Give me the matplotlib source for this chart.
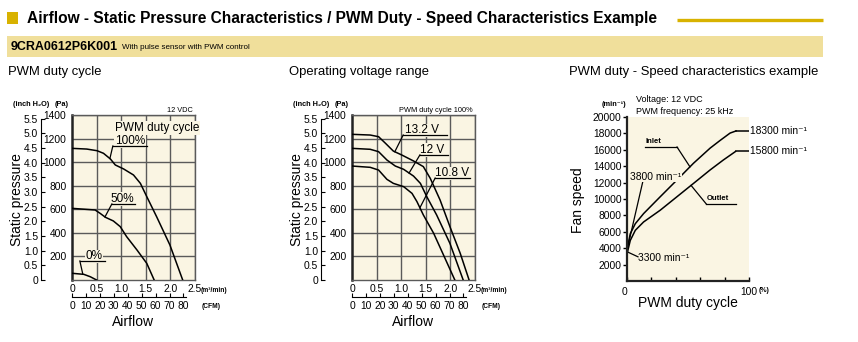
import numpy as np
import matplotlib
matplotlib.use("Agg")
import matplotlib.pyplot as plt
from matplotlib import font_manager
from matplotlib.patches import Rectangle

# PWM duty cycle curves (airflow m3/min, static pressure Pa) at 12 VDC
pwm100_flow = [0, 0.30, 0.51, 0.64, 0.78, 0.88, 1.05, 1.25, 1.39, 1.52, 1.72, 1.99, 2.25]
pwm100_pa = [1117, 1111, 1097, 1075, 1027, 976, 942, 891, 820, 707, 537, 297, 0]
pwm50_flow = [0, 0.47, 0.57, 0.68, 0.84, 0.98, 1.11, 1.32, 1.52, 1.67]
pwm50_pa = [608, 594, 566, 532, 501, 453, 368, 255, 141, 0]
pwm0_flow = [0, 0.24, 0.37, 0.50]
pwm0_pa = [57, 48, 28, 0]

# operating voltage range at 100 % duty
v132_flow = [0, 0.37, 0.54, 0.68, 0.84, 1.01, 1.25, 1.45, 1.59, 1.79, 1.99, 2.20, 2.38]
v132_pa = [1236, 1230, 1216, 1160, 1094, 1061, 1010, 962, 863, 679, 453, 226, 0]
v12_flow = [0, 0.37, 0.54, 0.71, 0.88, 1.05, 1.25, 1.39, 1.52, 1.72, 1.99, 2.26]
v12_pa = [1117, 1109, 1089, 1018, 967, 939, 882, 820, 707, 552, 311, 0]
v108_flow = [0, 0.37, 0.54, 0.71, 0.84, 1.05, 1.22, 1.32, 1.45, 1.66, 1.86, 2.09]
v108_pa = [967, 956, 933, 854, 820, 792, 735, 665, 552, 396, 212, 0]

# PWM duty (%) vs fan speed (min-1)
inlet_duty = [0, 2.7, 6.8, 13.6, 27.2, 40.9, 54.5, 68.1, 76.3, 84.5, 89.4]
inlet_speed = [3800, 5770, 6990, 8220, 10270, 12310, 14360, 16200, 17140, 18040, 18300]
outlet_duty = [0, 2.7, 6.8, 13.6, 27.2, 40.9, 54.5, 68.1, 79.0, 89.0]
outlet_speed = [3300, 4950, 6180, 7200, 8630, 10270, 11900, 13540, 14760, 15800]

pa_ticks = [200, 400, 600, 800, 1000, 1200, 1400]
inch_ticks = [0, 0.5, 1.0, 1.5, 2.0, 2.5, 3.0, 3.5, 4.0, 4.5, 5.0, 5.5]
inch_labels = ["0", "0.5", "1.0", "1.5", "2.0", "2.5", "3.0", "3.5", "4.0", "4.5", "5.0", "5.5"]
m3_ticks = [0, 0.5, 1.0, 1.5, 2.0, 2.5]
m3_labels = ["0", "0.5", "1.0", "1.5", "2.0", "2.5"]
cfm_ticks = [0, 10, 20, 30, 40, 50, 60, 70, 80]
speed_ticks = [2000, 4000, 6000, 8000, 10000, 12000, 14000, 16000, 18000, 20000]
duty_ticks = [0, 20, 40, 60, 80, 100]

W, H = 858, 342
CREAM = "#faf5e3"
GRID = "#5a5a5a"
GOLD = "#d8b200"
BAND = "#f0df9b"
NUMSIZE = 7.4

names = {f.name for f in font_manager.fontManager.ttflist}
NARROW = "Liberation Sans Narrow" if "Liberation Sans Narrow" in names else "Liberation Sans"
NUM = [NARROW, "DejaVu Sans"]
plt.rcParams["font.family"] = ["Liberation Sans", "DejaVu Sans"]

fig = plt.figure(figsize=(W / 100, H / 100), dpi=100)
bg = fig.add_axes([0, 0, 1, 1])
bg.set_xlim(0, W)
bg.set_ylim(H, 0)
bg.axis("off")


def box(l, t, r, b):
    return [l / W, 1 - b / H, (r - l) / W, (b - t) / H]


# header
bg.add_patch(Rectangle((7, 12), 11, 12, color=GOLD, lw=0))
bg.text(27, 18.5, "Airflow - Static Pressure Characteristics / PWM Duty - Speed Characteristics Example",
        fontsize=11.2, fontweight="bold", va="center", ha="left")
bg.plot([677, 823], [20, 20], color=GOLD, lw=2.4, solid_capstyle="butt")
bg.add_patch(Rectangle((7, 36), 816, 21, color=BAND, lw=0))
bg.text(11, 47, "9CRA0612P6K001", fontsize=9, fontweight="bold", va="center")
bg.text(122, 47.5, "With pulse sensor with PWM control", fontsize=5.8, va="center")

bg.text(8, 72, "PWM duty cycle", fontsize=9.4, va="center")
bg.text(289, 72, "Operating voltage range", fontsize=9.4, va="center")
bg.text(569, 72, "PWM duty - Speed characteristics example", fontsize=9.4, va="center")

PA_PER_INCH = 249.09
M3_PER_CFM = 0.0283168


def pressure_chart(x0, curves, note):
    ax = fig.add_axes(box(x0 + 72, 115, x0 + 195, 280))
    ax.set_facecolor(CREAM)
    ax.set_xlim(0, 2.5)
    ax.set_ylim(0, 1400)
    for x in m3_ticks[1:]:
        ax.axvline(x, color=GRID, lw=1.0, zorder=1)
    for y in pa_ticks:
        ax.axhline(y, color=GRID, lw=1.0, zorder=1)
    for s in ["top", "right", "bottom"]:
        ax.spines[s].set_color(GRID)
        ax.spines[s].set_linewidth(1.0)
    ax.spines["left"].set_linewidth(1.8)
    ax.spines["left"].set_color("#222222")
    ax.set_yticks(pa_ticks)
    ax.set_yticklabels([str(v) for v in pa_ticks], fontfamily=NUM, fontsize=NUMSIZE)
    ax.tick_params(axis="y", length=0, pad=4)
    ax.set_xticks(m3_ticks)
    ax.set_xticklabels(m3_labels, fontfamily=NUM, fontsize=NUMSIZE)
    ax.tick_params(axis="x", length=0, pad=3)

    for flow, pa in curves:
        ax.plot(flow, pa, color="black", lw=1.1, zorder=3)

    inch = ax.secondary_yaxis(-31 / 123, functions=(lambda p: p / PA_PER_INCH,
                                                   lambda i: i * PA_PER_INCH))
    inch.set_yticks(inch_ticks)
    inch.set_yticklabels(inch_labels, fontfamily=NUM, fontsize=NUMSIZE)
    inch.tick_params(direction="in", length=3, width=0.8, pad=2)
    inch.spines["left"].set_bounds(0, 5.5)
    inch.spines["left"].set_linewidth(0.8)

    cfm = ax.secondary_xaxis(-17 / 165, functions=(lambda m: m / M3_PER_CFM,
                                                  lambda c: c * M3_PER_CFM))
    cfm.set_xticks(cfm_ticks)
    cfm.set_xticklabels([str(v) for v in cfm_ticks], fontfamily=NUM, fontsize=NUMSIZE)
    cfm.tick_params(direction="in", length=3, width=0.8, pad=3)
    cfm.spines["bottom"].set_bounds(0, 82)
    cfm.spines["bottom"].set_linewidth(0.8)

    bg.text(x0 + 13, 104, "(inch H\u2082O)", fontsize=5.3, fontweight="bold", va="center")
    bg.text(x0 + 55, 104, "(Pa)", fontsize=5.3, fontweight="bold", va="center")
    bg.text(x0 + 17, 200, "Static pressure", fontsize=10, rotation=90, va="center", ha="center")
    bg.text(x0 + 201, 290, "(m\u00b3/min)", fontsize=4.8, fontweight="bold", va="center")
    bg.text(x0 + 202, 306, "(CFM)", fontsize=4.8, fontweight="bold", va="center")
    bg.text(x0 + 133, 322, "Airflow", fontsize=10, va="center", ha="center")
    bg.text(x0 + 193, 110, note, fontsize=5.3, va="center", ha="right")
    return ax


def callout(ax, text, tx, ux0, ux1, uy, flow, pa, cx, size=8.5):
    ax.annotate(text, xy=(tx, uy), xytext=(0, 1.2), textcoords="offset points",
                fontsize=size, ha="center", va="baseline", zorder=5,
                bbox=dict(facecolor=CREAM, edgecolor="none", pad=0.6))
    ax.plot([ux0, ux1], [uy, uy], color="black", lw=0.9, zorder=6)
    ax.plot([ux0, cx], [uy, np.interp(cx, flow, pa)], color="black", lw=0.9, zorder=6)


ax1 = pressure_chart(0, [(pwm100_flow, pwm100_pa), (pwm50_flow, pwm50_pa), (pwm0_flow, pwm0_pa)], "12 VDC")
ax1.text(0.87, 1292, "PWM duty cycle", fontsize=8.5, ha="left", va="center", zorder=5,
         bbox=dict(facecolor=CREAM, edgecolor="none", pad=0.6))
callout(ax1, "100%", 1.18, 0.83, 1.52, 1137, pwm100_flow, pwm100_pa, 0.77)
callout(ax1, "50%", 1.03, 0.81, 1.28, 645, pwm50_flow, pwm50_pa, 0.67)
callout(ax1, "0%", 0.45, 0.16, 0.67, 161, pwm0_flow, pwm0_pa, 0.22)

ax2 = pressure_chart(280, [(v132_flow, v132_pa), (v12_flow, v12_pa), (v108_flow, v108_pa)],
                     "PWM duty cycle 100%")
callout(ax2, "13.2 V", 1.43, 1.04, 1.93, 1230, v132_flow, v132_pa, 0.87)
callout(ax2, "12 V", 1.62, 1.38, 1.95, 1061, v12_flow, v12_pa, 1.16)
callout(ax2, "10.8 V", 2.04, 1.69, 2.40, 865, v108_flow, v108_pa, 1.38)

# duty - speed chart
ax3 = fig.add_axes(box(627, 117, 749, 281))
ax3.set_facecolor(CREAM)
ax3.set_xlim(0, 100)
ax3.set_ylim(0, 20000)
ax3.spines["top"].set_visible(False)
ax3.spines["right"].set_visible(False)
for s in ["left", "bottom"]:
    ax3.spines[s].set_linewidth(1.6)
    ax3.spines[s].set_color("#222222")
ax3.set_yticks(speed_ticks)
ax3.set_yticklabels([str(v) for v in speed_ticks], fontfamily=NUM, fontsize=NUMSIZE)
ax3.tick_params(axis="y", direction="out", length=3, width=1.0, pad=1)
ax3.set_xticks(duty_ticks)
ax3.set_xticklabels(["0", "", "", "", "", "100"], fontfamily=NUM, fontsize=NUMSIZE)
ax3.tick_params(axis="x", direction="in", length=3, width=1.0, pad=4)
ax3.get_xticklabels()[0].set_horizontalalignment("right")

ax3.plot(inlet_duty, inlet_speed, color="black", lw=1.1)
ax3.plot(outlet_duty, outlet_speed, color="black", lw=1.1)
ax3.plot([inlet_duty[-1], 100], [inlet_speed[-1]] * 2, color="black", lw=1.1)
ax3.plot([outlet_duty[-1], 100], [outlet_speed[-1]] * 2, color="black", lw=1.1)
ax3.text(101, inlet_speed[-1], "18300 min\u207b\u00b9", fontsize=NUMSIZE, fontfamily=NUM,
         va="center", ha="left", clip_on=False)
ax3.text(101, outlet_speed[-1], "15800 min\u207b\u00b9", fontsize=NUMSIZE, fontfamily=NUM,
         va="center", ha="left", clip_on=False)

ax3.text(15, 17070, "Inlet", fontsize=5.5, fontweight="bold", va="center", ha="left")
ax3.plot([15, 41], [16340, 16340], color="black", lw=0.9)
ax3.plot([41, 51.6], [16340, np.interp(51.6, inlet_duty, inlet_speed)], color="black", lw=0.9)
ax3.text(65, 10000, "Outlet", fontsize=5.5, fontweight="bold", va="center", ha="left")
ax3.plot([65, 89.3], [9390, 9390], color="black", lw=0.9)
ax3.plot([65, 52.5], [9390, np.interp(52.5, outlet_duty, outlet_speed)], color="black", lw=0.9)

ax3.text(2.5, 12680, "3800 min\u207b\u00b9", fontsize=NUMSIZE, fontfamily=NUM, va="center", ha="left",
         bbox=dict(facecolor=CREAM, edgecolor="none", pad=0.2), zorder=5)
ax3.plot([13, 0.5], [12150, inlet_speed[0] + 300], color="black", lw=0.9)
ax3.text(9, 2800, "3300 min\u207b\u00b9", fontsize=NUMSIZE, fontfamily=NUM, va="center", ha="left")
ax3.plot([9, 0.3], [2950, outlet_speed[0] + 250], color="black", lw=0.9)

bg.text(602, 105, "(min\u207b\u00b9)", fontsize=5.3, fontweight="bold", va="center")
bg.text(636, 99, "Voltage: 12 VDC", fontsize=6.5, va="center")
bg.text(636, 111, "PWM frequency: 25 kHz", fontsize=6.5, va="center")
bg.text(759, 291, "(%)", fontsize=5, fontweight="bold", va="center")
bg.text(578, 200, "Fan speed", fontsize=10, rotation=90, va="center", ha="center")
bg.text(688, 303, "PWM duty cycle", fontsize=10, va="center", ha="center")

fig.savefig("out.png", dpi=100)
